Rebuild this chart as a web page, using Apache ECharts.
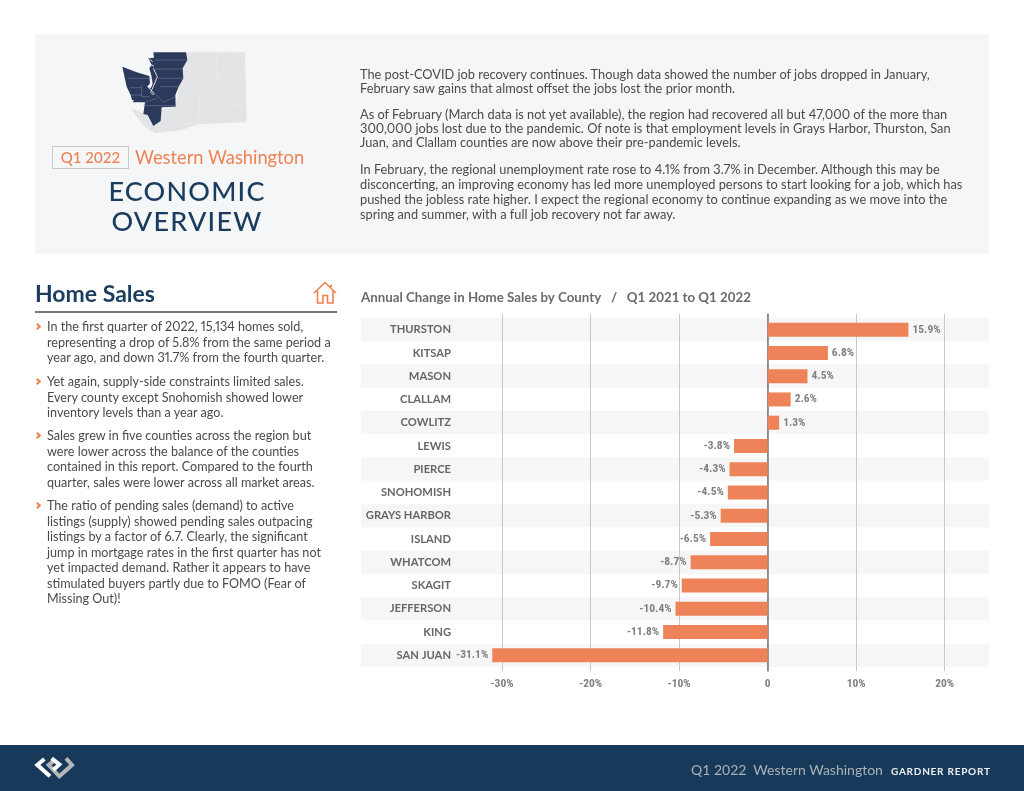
<!DOCTYPE html>
<html>
<head>
<meta charset="utf-8">
<title>Economic Overview</title>
<script src="https://cdn.jsdelivr.net/npm/echarts@6/dist/echarts.min.js"></script>
<style>
html,body{margin:0;padding:0;background:#fff;width:1024px;height:791px;overflow:hidden;font-family:Lato,sans-serif;color:#4a4a4a}
.abs{position:absolute;white-space:nowrap}
#panel{left:35px;top:34px;width:954px;height:220px;background:#f4f6f8}
#footer{left:0;top:745px;width:1024px;height:46px;background:#183a5a}
#chart{position:absolute;left:0;top:0;width:1024px;height:791px}
.p{font-size:12.8px;line-height:14.2px;color:#4a4a4a;left:360px;font-variant-numeric:proportional-nums}
.b{font-size:12.6px;line-height:15.5px;color:#4a4a4a;left:47px;font-variant-numeric:proportional-nums}
.b:before{content:"";position:absolute;left:-12px;top:5px;width:3px;height:3px;border-top:2px solid #ef7f4f;border-right:2px solid #ef7f4f;transform:rotate(45deg)}
</style>
</head>
<body>
<div class="abs" id="panel"></div>
<div class="abs" id="footer"></div>
<div id="chart"></div>

<svg class="abs" style="left:110px;top:45px" width="145" height="90" viewBox="0 0 435 270">
<path fill="#e3e4e5" d="M228 22L405 22L410 232L265 238L215 255L135 265L105 245L75 210L65 190L100 205L196 185Z"/>
<path fill="none" stroke="#eceded" stroke-width="2" d="M320 22L320 110M265 238L268 150L320 90L405 145M268 185L405 180M196 235L265 235M318 110L380 22"/>
<path fill="#2b3a5c" d="M130 22L228 22L232 45L218 70L220 100L206 125L196 150L197 185L155 187L152 228L130 243L113 210L100 207L105 172L68 172L62 150L50 125L37 65L80 82L118 93L120 115L112 125L122 130L128 118L125 95L118 70L125 60L115 40L132 38Z"/>
<path fill="none" stroke="#d9dce3" stroke-width="3" d="M118 42L128 50M122 58L132 64M130 70L142 95L132 120L122 142L130 150M112 125L122 134L134 148"/>
<path fill="none" stroke="#7d8699" stroke-width="1.5" d="M135 45L228 45M135 72L218 72M145 100L220 100M150 125L205 125M52 100L125 100M60 128L95 128M95 120L95 155L118 155M62 150L95 150M100 182L197 182M140 150L160 172L196 155M105 172L140 160"/>
<path fill="#f4f6f8" d="M62 164L72 166L68 172Z"/>
</svg>

<div class="abs" style="left:52px;top:146px;width:75px;height:21px;border:1px solid #c9c9c9;font-size:15px;font-weight:500;color:#f08252;line-height:21px;text-align:center">Q1 2022</div>
<div class="abs" style="left:135px;top:146px;font-size:18.3px;color:#f08252;line-height:22px">Western Washington</div>
<div class="abs" style="left:35px;width:304px;top:176px;text-align:center;font-size:27px;font-weight:500;line-height:30px;letter-spacing:1.2px;color:#1a3c5e">ECONOMIC<br>OVERVIEW</div>

<div class="abs p" style="top:68px;line-height:13.6px">The post-COVID job recovery continues. Though data showed the number of jobs dropped in January,<br>February saw gains that almost offset the jobs lost the prior month.</div>
<div class="abs p" style="top:107px">As of February (March data is not yet available), the region had recovered all but 47,000 of the more than<br>300,000 jobs lost due to the pandemic. Of note is that employment levels in Grays Harbor, Thurston, San<br>Juan, and Clallam counties are now above their pre-pandemic levels.</div>
<div class="abs p" style="top:162px;line-height:15px">In February, the regional unemployment rate rose to 4.1% from 3.7% in December. Although this may be<br>disconcerting, an improving economy has led more unemployed persons to start looking for a job, which has<br>pushed the jobless rate higher. I expect the regional economy to continue expanding as we move into the<br>spring and summer, with a full job recovery not far away.</div>

<div class="abs" style="left:35px;top:279px;font-size:23px;font-weight:700;line-height:28px;color:#1a3c5e">Home Sales</div>
<svg class="abs" style="left:313px;top:281px" width="24" height="24" viewBox="0 0 24 24" fill="none" stroke="#ef7f4f" stroke-width="1.6">
<path d="M1 12L12 1.5L23 12M4.5 9.5V22H10V14.5H14.5V22H20V9.5M18 3.5V6"/>
</svg>
<div class="abs" style="left:35px;top:311px;width:302px;height:1.5px;background:#777"></div>

<div class="abs b" style="top:319px">In the first quarter of 2022, 15,134 homes sold,<br>representing a drop of 5.8% from the same period a<br>year ago, and down 31.7% from the fourth quarter.</div>
<div class="abs b" style="top:374px">Yet again, supply-side constraints limited sales.<br>Every county except Snohomish showed lower<br>inventory levels than a year ago.</div>
<div class="abs b" style="top:428px">Sales grew in five counties across the region but<br>were lower across the balance of the counties<br>contained in this report. Compared to the fourth<br>quarter, sales were lower across all market areas.</div>
<div class="abs b" style="top:498px">The ratio of pending sales (demand) to active<br>listings (supply) showed pending sales outpacing<br>listings by a factor of 6.7. Clearly, the significant<br>jump in mortgage rates in the first quarter has not<br>yet impacted demand. Rather it appears to have<br>stimulated buyers partly due to FOMO (Fear of<br>Missing Out)!</div>

<svg class="abs" style="left:0;top:735px" width="200" height="56" viewBox="0 0 600 168" fill="none" stroke-width="12">
<path stroke="#b4b6b8" d="M198 70L216 90L178 124L146 90L166 74"/>
<path stroke="#ffffff" d="M133 72L112 90L150 124M155 70L178 88L160 105"/>
</svg>
<div class="abs" style="left:691px;top:761px;font-size:14px;line-height:18px;color:#a9b1b9">Q1 2022&nbsp; Western Washington</div>
<div class="abs" style="left:891px;top:764px;font-size:10px;font-weight:700;letter-spacing:0.75px;line-height:14px;color:#eef0f2">GARDNER REPORT</div>

<script>
var counties = ['THURSTON','KITSAP','MASON','CLALLAM','COWLITZ','LEWIS','PIERCE','SNOHOMISH','GRAYS HARBOR','ISLAND','WHATCOM','SKAGIT','JEFFERSON','KING','SAN JUAN'];
var changes = [15.9,6.8,4.5,2.6,1.3,-3.8,-4.3,-4.5,-5.3,-6.5,-8.7,-9.7,-10.4,-11.8,-31.1];
var axisMin = -30, axisMax = 25, axisStep = 10;

var narrow = '"Roboto Condensed","Liberation Sans Narrow","Arial Narrow",Roboto,sans-serif';

var barData = [];
for (var k in changes) {
	barData[k] = {value:changes[k], label:{position:changes[k] < 0 ? 'left' : 'right'}};
}

var myChart = echarts.init(document.getElementById('chart'));
var option = {
	animation:false,
	title:{
		text:'Annual Change in Home Sales by County   /   Q1 2021 to Q1 2022',
		left:361, top:291, padding:0,
		textStyle:{fontFamily:'Lato', fontSize:13.3, fontWeight:700, color:'#6a6a6a'}
	},
	grid:[
		{left:361, right:35, top:318, height:349},   // row bands
		{left:502, right:35, top:314, height:357},   // gridlines, run a bit past the bands
		{left:502, right:35, top:318, height:349}    // bars
	],
	xAxis:[
		{gridIndex:0, type:'value', min:0, max:1, show:false},
		{gridIndex:1, type:'value', min:axisMin, max:axisMax, interval:axisStep,
			axisLine:{show:false}, axisTick:{show:false},
			splitLine:{show:true, showMaxLine:false, lineStyle:{color:'#c8c8c8', width:1}},
			axisLabel:{margin:7, showMaxLabel:false, fontFamily:narrow, fontSize:11.5, fontWeight:700, color:'#808080',
				formatter:function(v){ return v === 0 ? '0' : v + '%'; }}},
		{gridIndex:2, type:'value', min:axisMin, max:axisMax, interval:axisStep, show:false}
	],
	yAxis:[
		{gridIndex:0, type:'category', inverse:true, data:counties,
			axisLine:{show:false}, axisTick:{show:false}, axisLabel:{show:false},
			splitLine:{show:false},
			splitArea:{show:true, areaStyle:{color:['#f6f6f6','#ffffff']}}},
		{gridIndex:1, type:'value', min:0, max:1,
			axisLine:{show:true, onZero:true, lineStyle:{color:'#777', width:1.5}},
			axisTick:{show:false}, axisLabel:{show:false}, splitLine:{show:false}},
		{gridIndex:2, type:'category', inverse:true, data:counties,
			axisLine:{show:false}, axisTick:{show:false},
			axisLabel:{margin:51, fontFamily:'Lato', fontSize:11.2, fontWeight:700, color:'#666',
				interval:0, padding:[4,0,0,0]},
			splitLine:{show:false}}
	],
	series:[
		{type:'bar', xAxisIndex:2, yAxisIndex:2, data:barData, barWidth:14, clip:false, z:3,
			itemStyle:{color:'#ee8258'},
			label:{show:true, distance:4, padding:[2,0,0,0], fontFamily:narrow, fontSize:11.5, fontWeight:700, color:'#808080',
				formatter:function(p){ return p.value + '%'; }}}
	]
};
myChart.setOption(option);
</script>
</body>
</html>
